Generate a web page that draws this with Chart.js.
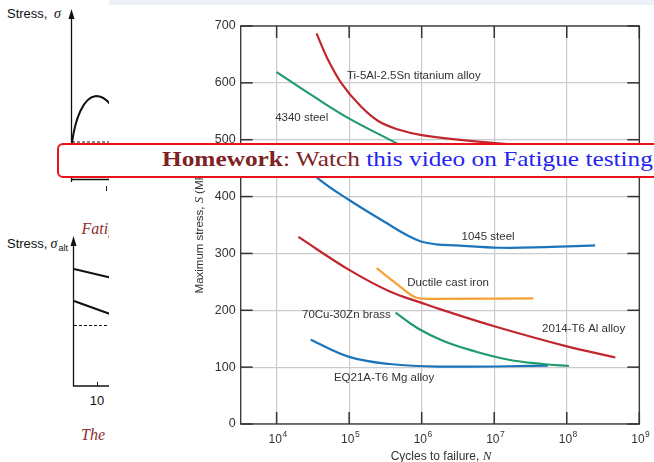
<!DOCTYPE html>
<html>
<head>
<meta charset="utf-8">
<script src="https://cdn.jsdelivr.net/npm/chart.js"></script>
<style>
  html, body { margin: 0; padding: 0; width: 654px; height: 462px; overflow: hidden; background: #fff; }
  #sketch { position: absolute; left: 0; top: 0; }
  #chart { position: absolute; left: 109px; top: 0; background: #fff; }
  #band { position: absolute; left: 109px; top: 0; width: 545px; height: 5px; background: #eef0f8; }
  #note {
    position: absolute; left: 57px; top: 143px; width: 660px; height: 31px;
    border: 2px solid #e8121c; border-radius: 6px; background: #fff;
  }
  #noteText {
    position: absolute; left: 162px; top: 149px; white-space: nowrap;
    font: 21px/21px "Liberation Serif", serif; color: #7d2323;
    transform: scaleX(1.205); transform-origin: 0 0;
  }
  #noteText b { font-weight: bold; }
  #noteText .link { color: #2424f0; }
</style>
</head>
<body>
<svg id="sketch" width="120" height="462" xmlns="http://www.w3.org/2000/svg">
  <g font-family="Liberation Sans, Arial, sans-serif" font-size="13" fill="#111">
    <text x="7" y="17.5">Stress,</text>
    <text x="54" y="17.5" font-family="Liberation Serif, serif" font-style="italic" font-size="14">σ</text>
    <text x="7" y="247.5">Stress,</text>
    <text x="50.5" y="247.5" font-family="Liberation Serif, serif" font-style="italic" font-size="14">σ</text>
    <text x="58.5" y="250.5" font-size="9">alt</text>
    <text x="97" y="404.5" text-anchor="middle">10</text>
  </g>
  <g stroke="#111" fill="none">
    <line x1="71.5" y1="16" x2="71.5" y2="182" stroke-width="1.3"/>
    <path d="M72,143 C75,120 83,97 96,96 C101,96 106,99 110,104" stroke-width="2"/>
    <line x1="72" y1="142" x2="110" y2="142" stroke-width="1" stroke-dasharray="3 2"/>
    <line x1="72" y1="179.5" x2="110" y2="179.5" stroke-width="1.5"/>
    <line x1="106.5" y1="186" x2="106.5" y2="191" stroke-width="1"/>
    <line x1="73.5" y1="244" x2="73.5" y2="386" stroke-width="1.3"/>
    <line x1="73" y1="386" x2="110" y2="386" stroke-width="1.3"/>
    <line x1="97.5" y1="382" x2="97.5" y2="386" stroke-width="1"/>
    <line x1="74" y1="269" x2="110" y2="277.5" stroke-width="2"/>
    <line x1="74" y1="301" x2="110" y2="314" stroke-width="2"/>
    <line x1="74" y1="325.5" x2="110" y2="325.5" stroke-width="1" stroke-dasharray="3 2"/>
  </g>
  <polygon points="71.5,9 68.5,19 74.5,19" fill="#111"/>
  <polygon points="73.5,236 70.5,246 76.5,246" fill="#111"/>
  <g font-family="Liberation Serif, serif" font-style="italic" font-size="16" fill="#8c2f2f">
    <text x="81.5" y="233.5">Fatigue</text>
    <text x="81" y="440">The</text>
  </g>
</svg>
<canvas id="chart" width="560" height="462"></canvas>
<div id="band"></div>
<div id="note"></div>
<div id="noteText"><b>Homework</b>: Watch <span class="link">this video on Fatigue testing</span></div>
<script>
// x values are log10 of cycles to failure, y values are stress in MPa
const cycleTicks = [4, 5, 6, 7, 8, 9];
const stressTicks = [0, 100, 200, 300, 400, 500, 600, 700];

const titaniumLogN = [4.55, 4.70, 4.90, 5.15, 5.40, 5.70, 6.0, 6.5, 7.2];
const titaniumS    = [687, 643, 598, 560, 533, 517, 508, 500, 492];

const steel4340LogN = [4.0, 4.5, 4.99, 5.65, 6.0];
const steel4340S    = [619, 577, 538, 494, 470];

const steel1045LogN = [4.35, 4.57, 5.0, 5.56, 5.8, 5.99, 6.2, 6.48, 7.07, 7.7, 8.39];
const steel1045S    = [462, 432, 394, 350, 332, 321, 316, 314, 310, 311, 314];

const al2014LogN = [4.30, 5.0, 5.56, 6.0, 6.25, 7.0, 7.99, 8.67];
const al2014S    = [329, 271, 233, 213, 202, 172, 137, 117];

const castIronLogN = [5.38, 5.65, 5.93, 6.1, 7.54];
const castIronS    = [274, 247, 222, 220, 221];

const brassLogN = [5.64, 5.95, 6.3, 6.7, 7.2, 7.67, 8.03];
const brassS    = [196, 168, 146, 129, 113, 105.5, 102];

const mgLogN = [4.47, 5.0, 5.56, 6.25, 7.74];
const mgS    = [148, 118, 105.5, 101, 102.5];

const curveNames  = ['Ti-5Al-2.5Sn titanium alloy', '4340 steel', '1045 steel', 'Ductile cast iron',
                     '70Cu-30Zn brass', '2014-T6 Al alloy', 'EQ21A-T6 Mg alloy'];
const curveLabelX = [4.97, 3.98, 6.55, 5.80, 4.35, 7.66, 4.79];
const curveLabelY = [612, 538, 329, 248, 192, 167, 81];

const RED = '#c1272d', GREEN = '#1f9b6c', BLUE = '#1b75bc', ORANGE = '#f7a035';

function pts(xs, ys) { return xs.map((v, i) => ({ x: v, y: ys[i] })); }
function series(xs, ys, color, mode) {
  return {
    data: pts(xs, ys), borderColor: color, borderWidth: 2.2, pointRadius: 0,
    tension: 0.4, cubicInterpolationMode: mode || 'default', fill: false
  };
}

const decorations = {
  id: 'decorations',
  afterDraw(chart) {
    const { ctx, chartArea: a, scales: { x, y } } = chart;
    ctx.save();
    ctx.strokeStyle = '#333';
    ctx.lineWidth = 1.5;
    const seg = (x1, y1, x2, y2) => { ctx.beginPath(); ctx.moveTo(x1, y1); ctx.lineTo(x2, y2); ctx.stroke(); };
    cycleTicks.forEach(v => {
      const px = x.getPixelForValue(v);
      seg(px, a.bottom, px, a.bottom - 12);
      seg(px, a.top, px, a.top + 12);
    });
    stressTicks.forEach(v => {
      const py = y.getPixelForValue(v);
      seg(a.left, py, a.left + 12, py);
      seg(a.right, py, a.right - 12, py);
    });
    ctx.lineWidth = 1.3;
    ctx.strokeRect(a.left, a.top, a.right - a.left, a.bottom - a.top);

    // x tick labels 10^n
    ctx.fillStyle = '#333';
    ctx.textBaseline = 'alphabetic';
    cycleTicks.forEach(v => {
      const px = x.getPixelForValue(v);
      ctx.font = '12px "Liberation Sans", Arial, sans-serif';
      const w1 = ctx.measureText('10').width;
      ctx.font = '8.5px "Liberation Sans", Arial, sans-serif';
      const w2 = ctx.measureText(String(v)).width;
      const x0 = px - (w1 + w2) / 2 + 1;
      ctx.font = '12px "Liberation Sans", Arial, sans-serif';
      ctx.textAlign = 'left';
      ctx.fillText('10', x0, a.bottom + 19);
      ctx.font = '8.5px "Liberation Sans", Arial, sans-serif';
      ctx.fillText(String(v), x0 + w1 + 0.5, a.bottom + 13);
    });

    // x title
    ctx.font = '12px "Liberation Sans", Arial, sans-serif';
    const t1 = 'Cycles to failure, ';
    const w1 = ctx.measureText(t1).width;
    ctx.font = 'italic 13px "Liberation Serif", serif';
    const w2 = ctx.measureText('N').width;
    const cx = (a.left + a.right) / 2 + 1;
    ctx.font = '12px "Liberation Sans", Arial, sans-serif';
    ctx.fillText(t1, cx - (w1 + w2) / 2, 460);
    ctx.font = 'italic 13px "Liberation Serif", serif';
    ctx.fillText('N', cx - (w1 + w2) / 2 + w1, 460);

    // y title
    ctx.save();
    ctx.translate(94, (a.top + a.bottom) / 2 + 3);
    ctx.rotate(-Math.PI / 2);
    const p1 = 'Maximum stress, ', p2 = 'S', p3 = ' (MPa)';
    ctx.font = '11.5px "Liberation Sans", Arial, sans-serif';
    const q1 = ctx.measureText(p1).width, q3 = ctx.measureText(p3).width;
    ctx.font = 'italic 12.5px "Liberation Serif", serif';
    const q2 = ctx.measureText(p2).width;
    let sx = -(q1 + q2 + q3) / 2;
    ctx.font = '11.5px "Liberation Sans", Arial, sans-serif';
    ctx.fillText(p1, sx, 0);
    ctx.font = 'italic 12.5px "Liberation Serif", serif';
    ctx.fillText(p2, sx + q1, 0);
    ctx.font = '11.5px "Liberation Sans", Arial, sans-serif';
    ctx.fillText(p3, sx + q1 + q2, 0);
    ctx.restore();

    // curve labels
    ctx.font = '11.5px "Liberation Sans", Arial, sans-serif';
    ctx.fillStyle = '#333';
    ctx.textAlign = 'left';
    ctx.textBaseline = 'middle';
    curveNames.forEach((n, i) => {
      ctx.fillText(n, x.getPixelForValue(curveLabelX[i]), y.getPixelForValue(curveLabelY[i]));
    });
    ctx.restore();
  }
};

new Chart(document.getElementById('chart'), {
  type: 'line',
  data: {
    datasets: [
      series(titaniumLogN, titaniumS, RED),
      series(steel4340LogN, steel4340S, GREEN),
      series(steel1045LogN, steel1045S, BLUE),
      series(al2014LogN, al2014S, RED),
      series(castIronLogN, castIronS, ORANGE, 'monotone'),
      series(brassLogN, brassS, GREEN),
      series(mgLogN, mgS, BLUE)
    ]
  },
  options: {
    responsive: false,
    animation: false,
    layout: { padding: { left: 0, top: 26, right: 29.7, bottom: 0 } },
    plugins: { legend: { display: false }, tooltip: { enabled: false } },
    scales: {
      x: {
        type: 'linear', min: 3.505, max: 9,
        afterBuildTicks: s => { s.ticks = cycleTicks.map(v => ({ value: v })); },
        afterFit: s => { s.height = 38; },
        grid: { color: '#cbcbcb', lineWidth: 1.2, drawTicks: false },
        border: { display: false },
        ticks: { display: false }
      },
      y: {
        min: 0, max: 700,
        afterBuildTicks: s => { s.ticks = stressTicks.map(v => ({ value: v })); },
        afterFit: s => { s.width = 131.7; },
        grid: { color: '#cbcbcb', lineWidth: 1.2, drawTicks: false },
        border: { display: false },
        ticks: { padding: 5, color: '#333', font: { family: '"Liberation Sans", Arial, sans-serif', size: 12.5 } }
      }
    }
  },
  plugins: [decorations]
});
</script>
</body>
</html>
